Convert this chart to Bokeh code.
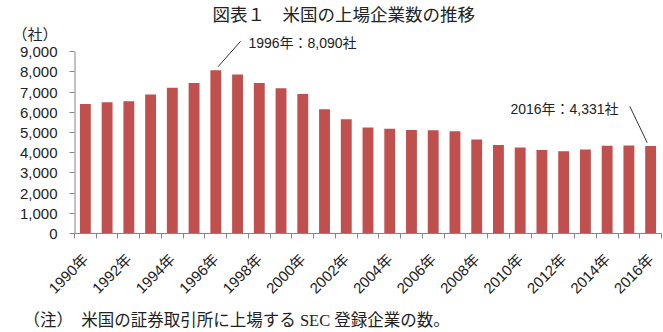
import math
from bokeh.plotting import figure
from bokeh.models import (ColumnDataSource, Range1d, FixedTicker, NumeralTickFormatter,
                          Label, Title)
from bokeh.embed import file_html
from bokeh.resources import INLINE

# ---- data ----
years = list(range(1990, 2017))
companies = [6420, 6500, 6550, 6890, 7220, 7460, 8090, 7870, 7460, 7200,
             6910, 6150, 5660, 5250, 5190, 5120, 5110, 5070, 4650, 4380,
             4260, 4140, 4070, 4160, 4350, 4360, 4331]
tick_years = list(range(1990, 2017, 2))
tick_labels = [f"{y}年" for y in tick_years]
y_ticks = list(range(0, 9001, 1000))

title_text = "図表１　米国の上場企業数の推移"
unit_text = "（社）"
note_text = "（注）　米国の証券取引所に上場する SEC 登録企業の数。"
peak_label = "1996年：8,090社"
last_label = "2016年：4,331社"

BAR = "#C0504D"
AXIS = "#868686"
TXT = "#222222"
NUM_FONT = "Liberation Sans, Noto Sans CJK JP"
CJK_FONT = "Noto Sans CJK JP"

W, H = 663, 332
y_top = 11540
unit_pos = 9870   # where the unit caption sits on the value axis

p = figure(width=W, height=H, output_backend="svg", toolbar_location=None,
           x_range=Range1d(years[0] - 0.5, years[-1] + 0.5),
           y_range=Range1d(0, y_top),
           min_border_left=74, min_border_right=2, min_border_top=0,
           min_border_bottom=10)
p.outline_line_color = None
p.xgrid.visible = False
p.ygrid.visible = False
p.background_fill_color = "white"
p.border_fill_color = "white"

src = ColumnDataSource(dict(year=years, n=companies))
p.vbar(x="year", top="n", width=0.5, source=src, fill_color=BAR, line_color=None)

# y axis: tick marks as minor ticks, labels on major ticks (+ unit caption)
ya = p.yaxis[0]
ya.ticker = FixedTicker(ticks=y_ticks + [unit_pos], minor_ticks=y_ticks)
ya.formatter = NumeralTickFormatter(format="0,0")
ya.major_label_overrides = {unit_pos: unit_text}
ya.axis_line_color = None
ya.major_tick_line_color = None
ya.major_tick_out = 5
ya.major_tick_in = 0
ya.minor_tick_line_color = AXIS
ya.minor_tick_out = 5
ya.minor_tick_in = 0
ya.major_label_standoff = 12
ya.major_label_text_font = NUM_FONT
ya.major_label_text_font_size = "15px"
ya.major_label_text_color = TXT

# value-axis line only up to the last tick
p.segment(x0=[years[0] - 0.5], y0=[y_ticks[0]], x1=[years[0] - 0.5], y1=[y_ticks[-1]],
          line_color=AXIS, line_width=2)

# x axis
xa = p.xaxis[0]
xa.ticker = FixedTicker(ticks=tick_years,
                        minor_ticks=[y - 0.5 for y in years] + [years[-1] + 0.5])
xa.major_label_overrides = {y: lab for y, lab in zip(tick_years, tick_labels)}
xa.axis_line_color = AXIS
xa.major_tick_line_color = None
xa.major_tick_out = 0
xa.major_tick_in = 0
xa.minor_tick_line_color = AXIS
xa.minor_tick_out = 5
xa.minor_tick_in = 0
xa.major_label_orientation = math.pi / 4
xa.major_label_standoff = 18
xa.major_label_text_font = NUM_FONT
xa.major_label_text_font_size = "15px"
xa.major_label_text_color = TXT

# footnote as a title below the axis
note = Title(text=note_text, align="left", offset=-51, standoff=6,
             text_font="Liberation Serif, Noto Sans CJK JP",
             text_font_size="16.5px", text_font_style="normal", text_color=TXT)
p.add_layout(note, "below")

# annotations (peak and last)
peak_i = companies.index(max(companies))
py, pv = years[peak_i], companies[peak_i]
ly, lv = years[-1], companies[-1]

p.line([py + 0.1, py + 1.14], [pv + 170, 9520], line_color="#333333", line_width=1)
p.line([ly - 0.16, ly - 0.96], [lv + 170, 6300], line_color="#333333", line_width=1)

p.add_layout(Label(x=py + 1.5, y=9430, text=peak_label, text_baseline="middle",
                   text_font=NUM_FONT, text_font_size="14px", text_color=TXT))
p.add_layout(Label(x=ly - 6.45, y=6190, text=last_label, text_baseline="middle",
                   text_font=NUM_FONT, text_font_size="14px", text_color=TXT))

# title at the very top
p.add_layout(Label(x=years[0] - 0.5 + 6.35, y=y_top, text=title_text,
                   text_baseline="top",
                   text_font=CJK_FONT, text_font_size="17.5px", text_color=TXT))

open("out.html", "w").write(file_html(p, INLINE))
